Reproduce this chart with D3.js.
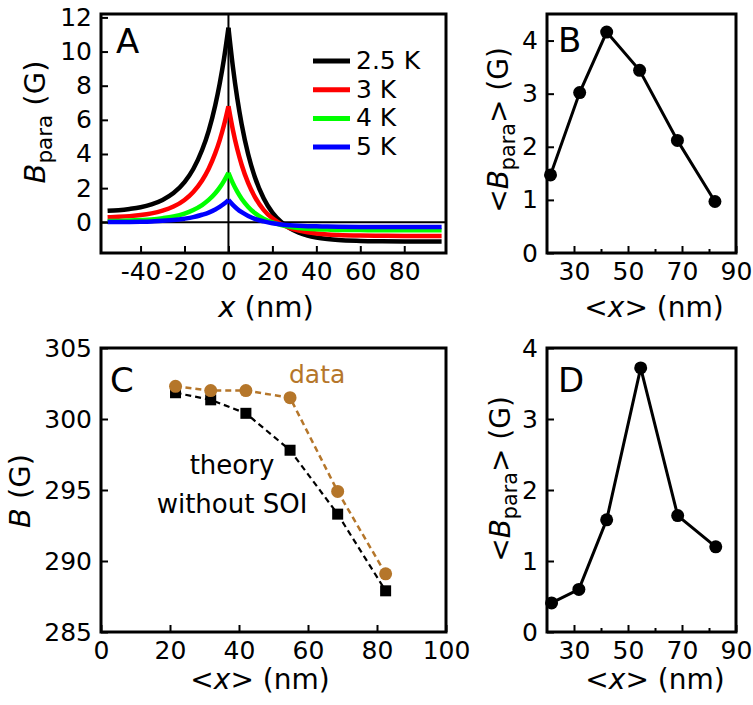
<!DOCTYPE html>
<html><head><meta charset="utf-8">
<script src="https://cdn.jsdelivr.net/npm/d3@7"></script>
<style>
body{margin:0;background:#fff}
text{font-family:"DejaVu Sans",sans-serif;fill:#000}
</style>
</head><body>
<svg id="chart" width="753" height="705"></svg>
<script>
// ---------- Panel A data: B_para (G) vs x (nm) ----------
const aX      = [-55,-50,-45,-40,-35,-30,-25,-20,-16,-12,-9,-6,-4,-2,0,2,4,6,9,12,16,20,24,28,32,36,40,45,50,60,70,80,90,97];
const aT25    = [0.67,0.71,0.78,0.88,1.05,1.31,1.71,2.35,3.12,4.23,5.36,6.86,8.11,9.60,11.4,9.13,7.27,5.75,3.97,2.65,1.41,0.57,0.02,-0.36,-0.61,-0.78,-0.89,-0.98,-1.04,-1.09,-1.11,-1.12,-1.12,-1.12];
const aT3     = [0.29,0.32,0.36,0.42,0.52,0.68,0.92,1.31,1.78,2.45,3.14,4.05,4.80,5.71,6.8,5.42,4.29,3.37,2.29,1.49,0.73,0.23,-0.11,-0.34,-0.49,-0.59,-0.66,-0.72,-0.75,-0.78,-0.79,-0.80,-0.80,-0.80];
const aT4     = [0.07,0.08,0.10,0.13,0.17,0.24,0.34,0.51,0.72,1.01,1.31,1.70,2.03,2.43,2.9,2.29,1.79,1.38,0.90,0.54,0.21,-0.01,-0.16,-0.27,-0.33,-0.38,-0.41,-0.43,-0.45,-0.46,-0.47,-0.47,-0.47,-0.47];
const aT5     = [0.01,0.01,0.02,0.03,0.05,0.09,0.13,0.21,0.30,0.44,0.57,0.75,0.90,1.08,1.3,1.02,0.78,0.59,0.37,0.20,0.05,-0.06,-0.13,-0.18,-0.21,-0.23,-0.24,-0.25,-0.26,-0.27,-0.27,-0.27,-0.27,-0.27];
const aLabels = ["2.5 K","3 K","4 K","5 K"];
const aColors = ["#000000","#ff0000","#00ff00","#0000ff"];
const aXTicks = [-40,-20,0,20,40,60,80];
const aYTicks = [0,2,4,6,8,10,12];

// ---------- Panel B data ----------
const bX = [21.3,32.1,42.1,54.3,68.3,82.2];
const bY = [1.47,3.02,4.16,3.44,2.12,0.97];
const bXTicks = [30,50,70,90];
const bXMinor = [40,60,80];
const bYTicks = [0,1,2,3,4];

// ---------- Panel C data ----------
const cX       = [21.6,31.8,42.0,54.8,68.6,82.5];
const cData    = [302.3,302.0,302.0,301.5,294.9,289.1];
const cTheory  = [301.85,301.35,300.4,297.8,293.3,287.9];
const cXTicks  = [0,20,40,60,80,100];
const cYTicks  = [285,290,295,300,305];

// ---------- Panel D data ----------
const dX = [21.7,31.8,42.1,54.7,68.4,82.5];
const dY = [0.41,0.60,1.58,3.72,1.64,1.20];
const dXTicks = [30,50,70,90];
const dXMinor = [40,60,80];
const dYTicks = [0,1,2,3,4];

const BROWN = "#b5762a";
const svg = d3.select("#chart");
const TICKFONT = 25;

function frame(x0,x1,y0,y1){
  svg.append("rect").attr("x",x0).attr("y",y0).attr("width",x1-x0).attr("height",y1-y0)
    .attr("fill","none").attr("stroke","#000").attr("stroke-width",3);
}
function styleAxis(g){
  g.select(".domain").remove();
  g.selectAll("line").attr("stroke","#000").attr("stroke-width",2);
  g.selectAll("text").attr("font-size",TICKFONT).attr("font-family","DejaVu Sans").attr("fill","#000");
  g.attr("font-size",null).attr("font-family",null);
}
function axes(xs, ys, xTicks, yTicks, xMinor){
  const [x0,x1] = xs.range(); const [y1,y0] = ys.range();
  const gx = svg.append("g").attr("transform",`translate(0,${y1})`)
    .call(d3.axisBottom(xs).tickValues(xTicks).tickSize(-7).tickPadding(9).tickFormat(d=>String(d)));
  styleAxis(gx);
  if (xMinor){
    const gm = svg.append("g").attr("transform",`translate(0,${y1})`)
      .call(d3.axisBottom(xs).tickValues(xMinor).tickSize(-4).tickFormat(""));
    styleAxis(gm);
  }
  const gy = svg.append("g").attr("transform",`translate(${x0},0)`)
    .call(d3.axisLeft(ys).tickValues(yTicks).tickSize(-7).tickPadding(9).tickFormat(d=>String(d)));
  styleAxis(gy);
}
function panelLetter(t,x,y){
  svg.append("text").attr("x",x).attr("y",y).attr("font-size",34).text(t);
}
function yTitle(x,y,parts,size){
  const t = svg.append("text").attr("transform",`translate(${x},${y}) rotate(-90)`)
    .attr("text-anchor","middle").attr("font-size",size);
  addParts(t,parts,size);
}
function xTitle(x,y,parts,size){
  const t = svg.append("text").attr("x",x).attr("y",y).attr("text-anchor","middle").attr("font-size",size);
  addParts(t,parts,size);
}
function addParts(t,parts,size){
  let shift = 0;
  parts.forEach(p=>{
    const s = t.append("tspan").text(p.t);
    if (p.it) s.attr("font-style","italic");
    if (p.sub){ s.attr("font-size",size*0.74).attr("dy",size*0.24); shift = size*0.24; }
    else if (shift){ s.attr("dy",-shift); shift = 0; }
  });
}

// ================= Panel A =================
const xA = d3.scaleLinear().domain([-58,99]).range([101,446]);
const yA = d3.scaleLinear().domain([-1.8,12.2]).range([253,14]);
svg.append("line").attr("x1",xA(0)).attr("x2",xA(0)).attr("y1",14).attr("y2",253).attr("stroke","#000").attr("stroke-width",2);
svg.append("line").attr("x1",101).attr("x2",446).attr("y1",yA(0)).attr("y2",yA(0)).attr("stroke","#000").attr("stroke-width",2);
const aSeries = [aT25,aT3,aT4,aT5];
const lineA = d3.line().x(d=>xA(d[0])).y(d=>yA(d[1])).curve(d3.curveMonotoneX);
aSeries.forEach((ser,i)=>{
  const pts = aX.map((x,j)=>[x,ser[j]]);
  const left = pts.filter(p=>p[0]<=0), right = pts.filter(p=>p[0]>=0);
  [left,right].forEach(seg=>{
    svg.append("path").attr("d",lineA(seg)).attr("fill","none").attr("stroke",aColors[i])
      .attr("stroke-width",4.5).attr("stroke-linejoin","miter");
  });
});
frame(101,446,14,253);
axes(xA,yA,aXTicks,aYTicks);
panelLetter("A",116,53);
// legend
aLabels.forEach((lab,i)=>{
  const yy = 61 + i*28.7;
  svg.append("line").attr("x1",313).attr("x2",350).attr("y1",yy).attr("y2",yy).attr("stroke",aColors[i]).attr("stroke-width",5);
  svg.append("text").attr("x",356).attr("y",yy+8).attr("font-size",25).text(lab);
});
yTitle(45,122,[{t:"B",it:true},{t:"para",sub:true},{t:" (G)"}],29);
xTitle(266,317,[{t:"x",it:true},{t:" (nm)"}],29);

// ================= Panel B =================
const xB = d3.scaleLinear().domain([20,90]).range([547,736]);
const yB = d3.scaleLinear().domain([0,4.5]).range([253,14]);
const lineB = d3.line().x((d,i)=>xB(bX[i])).y(d=>yB(d));
svg.append("path").attr("d",lineB(bY)).attr("fill","none").attr("stroke","#000").attr("stroke-width",3);
svg.selectAll(".ptB").data(bY).enter().append("circle")
  .attr("cx",(d,i)=>xB(bX[i])).attr("cy",d=>yB(d)).attr("r",6.5).attr("fill","#000");
frame(547,736,14,253);
axes(xB,yB,bXTicks,bYTicks,bXMinor);
panelLetter("B",558,52);
yTitle(508,130,[{t:"<"},{t:"B",it:true},{t:"para",sub:true},{t:">"},{t:" (G)"}],28);
xTitle(654,317,[{t:"<"},{t:"x",it:true},{t:"> (nm)"}],28);

// ================= Panel C =================
const xC = d3.scaleLinear().domain([0,100]).range([101,446]);
const yC = d3.scaleLinear().domain([285,305]).range([632,348]);
const lineC = d3.line().x((d,i)=>xC(cX[i])).y(d=>yC(d));
svg.append("path").attr("d",lineC(cTheory)).attr("fill","none").attr("stroke","#000")
  .attr("stroke-width",2.2).attr("stroke-dasharray","6,4");
svg.append("path").attr("d",lineC(cData)).attr("fill","none").attr("stroke",BROWN)
  .attr("stroke-width",2.5).attr("stroke-dasharray","6,4");
svg.selectAll(".sqC").data(cTheory).enter().append("rect")
  .attr("x",(d,i)=>xC(cX[i])-5.5).attr("y",d=>yC(d)-5.5).attr("width",11).attr("height",11).attr("fill","#000");
svg.selectAll(".ptC").data(cData).enter().append("circle")
  .attr("cx",(d,i)=>xC(cX[i])).attr("cy",d=>yC(d)).attr("r",6.5).attr("fill",BROWN);
frame(101,446,348,632);
axes(xC,yC,cXTicks,cYTicks);
panelLetter("C",110,392);
svg.append("text").attr("x",289).attr("y",383).attr("font-size",25).style("fill",BROWN).text("data");
svg.append("text").attr("x",232).attr("y",474).attr("text-anchor","middle").attr("font-size",26).text("theory");
svg.append("text").attr("x",232).attr("y",513).attr("text-anchor","middle").attr("font-size",26).text("without SOI");
yTitle(30,491,[{t:"B",it:true},{t:" (G)"}],29);
xTitle(260,689,[{t:"<"},{t:"x",it:true},{t:"> (nm)"}],28);

// ================= Panel D =================
const xD = d3.scaleLinear().domain([20,90]).range([547,736]);
const yD = d3.scaleLinear().domain([0,4]).range([632,348]);
const lineD = d3.line().x((d,i)=>xD(dX[i])).y(d=>yD(d));
svg.append("path").attr("d",lineD(dY)).attr("fill","none").attr("stroke","#000").attr("stroke-width",3);
svg.selectAll(".ptD").data(dY).enter().append("circle")
  .attr("cx",(d,i)=>xD(dX[i])).attr("cy",d=>yD(d)).attr("r",6.5).attr("fill","#000");
frame(547,736,348,632);
axes(xD,yD,dXTicks,dYTicks,dXMinor);
panelLetter("D",558,392);
yTitle(510,479,[{t:"<"},{t:"B",it:true},{t:"para",sub:true},{t:">"},{t:" (G)"}],28);
xTitle(655,689,[{t:"<"},{t:"x",it:true},{t:"> (nm)"}],28);
</script>
</body></html>
